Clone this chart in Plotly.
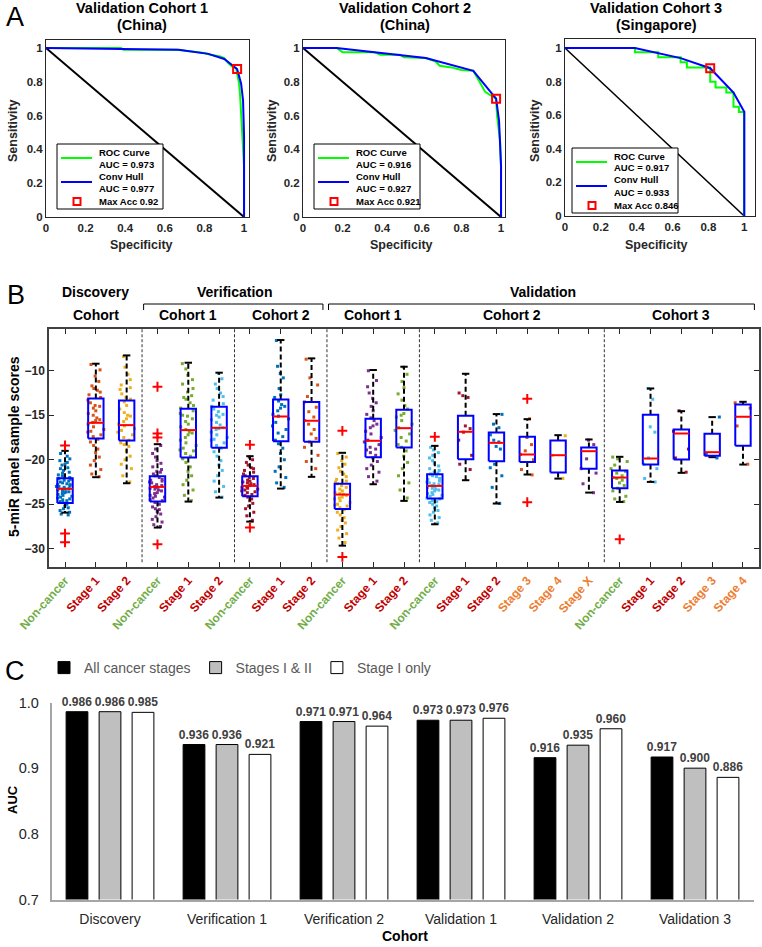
import plotly.graph_objects as go

W, H = 762, 947
FONT = "Liberation Sans, Arial, sans-serif"
INK = "#262626"

def px(x):
  return x / W

def py(y):
  return 1 - y / H

# ---------------- panel A : ROC curves ----------------
roc_titles = ["Validation Cohort 1", "Validation Cohort 2", "Validation Cohort 3"]
roc_regions = ["(China)", "(China)", "(Singapore)"]
roc_auc = ["0.973", "0.916", "0.917"]
hull_auc = ["0.977", "0.927", "0.933"]
max_acc = ["0.92", "0.921", "0.846"]

roc1_spec = [0, 0.38, 0.39, 0.66, 0.8, 0.83, 0.88, 0.9, 0.92, 0.94, 0.96, 0.97, 0.975, 0.98, 0.985, 0.99, 1.0, 1.0]
roc1_sens = [1, 1, 0.99, 0.99, 0.97, 0.96, 0.95, 0.94, 0.91, 0.89, 0.88, 0.83, 0.79, 0.72, 0.6, 0.48, 0.3, 0]
hull1_spec = [0, 0.67, 0.82, 0.9, 0.965, 0.985, 0.995, 1.0, 1.0]
hull1_sens = [1, 0.99, 0.965, 0.935, 0.875, 0.79, 0.69, 0.48, 0]

roc2_spec = [0, 0.17, 0.2, 0.36, 0.39, 0.49, 0.51, 0.62, 0.67, 0.69, 0.75, 0.8, 0.86, 0.89, 0.92, 0.96, 0.975, 0.98, 0.995, 1.0, 1.0]
roc2_sens = [1, 1, 0.975, 0.975, 0.96, 0.96, 0.945, 0.94, 0.92, 0.895, 0.885, 0.87, 0.865, 0.8, 0.74, 0.71, 0.70, 0.6, 0.45, 0.3, 0]
hull2_spec = [0, 0.17, 0.62, 0.86, 0.975, 0.99, 1.0, 1.0]
hull2_sens = [1, 1, 0.94, 0.865, 0.70, 0.57, 0.3, 0]

roc3_spec = [0, 0.39, 0.52, 0.645, 0.68, 0.81, 0.84, 0.9, 0.94, 0.97, 1.0, 1.0]
roc3_sens = [1, 0.975, 0.945, 0.915, 0.885, 0.80, 0.765, 0.735, 0.65, 0.62, 0.62, 0]
hull3_spec = [0, 0.39, 0.645, 0.81, 0.94, 1.0, 1.0]
hull3_sens = [1, 1, 0.94, 0.88, 0.735, 0.62, 0]

best_spec = [0.965, 0.975, 0.81]
best_sens = [0.875, 0.70, 0.88]

rocs = [(roc1_spec, roc1_sens, hull1_spec, hull1_sens, "linear"),
        (roc2_spec, roc2_sens, hull2_spec, hull2_sens, "linear"),
        (roc3_spec, roc3_sens, hull3_spec, hull3_sens, "hv")]

# ---------------- panel B : box plots ----------------
cat_labels = ["Non-cancer", "Stage 1", "Stage 2",
              "Non-cancer", "Stage 1", "Stage 2",
              "Non-cancer", "Stage 1", "Stage 2",
              "Non-cancer", "Stage 1", "Stage 2",
              "Non-cancer", "Stage 1", "Stage 2", "Stage 3", "Stage 4", "Stage X",
              "Non-cancer", "Stage 1", "Stage 2", "Stage 3", "Stage 4"]
cohort_names = ["Cohort", "Cohort 1", "Cohort 2", "Cohort 1", "Cohort 2", "Cohort 3"]
cohort_sizes = [3, 3, 3, 3, 6, 5]
study_names = ["Discovery", "Verification", "Validation"]
study_cohorts = [[0], [1, 2], [3, 4, 5]]

lo_whisk = [-25.94, -21.96, -22.64, -27.62, -24.7, -24.25, -26.95, -23.24, -21.92, -29.65, -22.75, -24.62,
            -27.25, -22.3, -24.92, -21.66, -22.12, -23.69, -24.74, -22.49, -21.47, -19.71, -20.54]
q1 = [-24.85, -17.61, -17.84, -24.7, -19.75, -18.66, -24.1, -17.91, -17.99, -25.52, -19.71, -18.62,
      -24.36, -19.94, -20.16, -20.24, -21.44, -21.02, -23.2, -20.54, -19.97, -19.56, -18.44]
median = [-23.27, -15.85, -16.11, -23.05, -16.67, -16.41, -22.94, -15.14, -15.62, -23.91, -17.87, -16.45,
          -22.94, -16.86, -18.1, -19.41, -19.49, -19.04, -22.0, -19.86, -17.05, -19.15, -15.17]
q3 = [-22.07, -13.11, -13.34, -21.85, -14.27, -14.05, -21.85, -13.22, -13.52, -22.71, -15.4, -14.39,
      -21.62, -15.06, -16.94, -17.42, -17.84, -18.62, -21.21, -14.95, -16.6, -17.09, -13.79]
hi_whisk = [-19.0, -9.21, -8.28, -18.25, -9.1, -10.22, -19.6, -6.55, -8.61, -19.22, -9.92, -9.55,
            -18.44, -10.34, -14.87, -15.44, -17.24, -17.72, -19.67, -11.99, -14.54, -15.21, -13.49]
outliers = [[-18.4, -28.3, -29.27], [], [], [-11.8, -17.05, -17.5, -29.5], [], [],
            [-18.32, -27.62], [], [], [-16.75, -30.92], [], [],
            [-17.42], [], [], [-13.15, -24.77], [], [],
            [-28.94], [], [], [], []]

samples = [
  [-19.3, -19.6, -19.9, -20.1, -20.3, -20.5, -20.6, -20.9, -21.0, -21.2, -21.4, -21.5, -21.7, -21.8, -22.0, -22.1,
   -22.2, -22.3, -22.5, -22.6, -22.7, -22.8, -22.9, -23.0, -23.1, -23.2, -23.3, -23.3, -23.4, -23.5, -23.6, -23.7,
   -23.8, -23.9, -24.0, -24.1, -24.2, -24.3, -24.5, -24.6, -24.7, -24.8, -25.0, -25.2, -25.4, -25.5, -25.7, -25.9,
   -26.1, -26.2, -22.4, -23.6, -24.4, -21.9, -23.0, -22.8],
  [-9.3, -9.9, -10.6, -11.2, -11.7, -12.0, -12.4, -12.7, -13.0, -13.3, -13.6, -13.9, -14.2, -14.5, -14.8, -15.0,
   -15.3, -15.6, -15.8, -16.0, -16.3, -16.6, -16.9, -17.2, -17.4, -17.7, -18.0, -18.4, -18.8, -19.2, -19.7, -20.1,
   -20.6, -21.1, -21.6, -21.9, -12.2, -14.0, -15.5, -16.8],
  [-8.4, -9.6, -10.4, -11.0, -11.6, -12.1, -12.6, -13.0, -13.5, -13.9, -14.3, -14.7, -15.0, -15.4, -15.7, -16.0,
   -16.2, -16.5, -16.9, -17.2, -17.5, -17.8, -18.1, -18.5, -19.0, -19.6, -20.0, -20.5, -21.0, -21.8, -22.5, -13.2,
   -15.1, -16.7, -11.9, -18.3],
  [-18.4, -18.8, -19.3, -19.7, -20.1, -20.4, -20.8, -21.1, -21.4, -21.6, -21.8, -22.0, -22.2, -22.3, -22.5, -22.6,
   -22.8, -22.9, -23.0, -23.1, -23.2, -23.4, -23.5, -23.7, -23.8, -24.0, -24.2, -24.3, -24.5, -24.6, -24.8, -25.0,
   -25.3, -25.5, -25.8, -26.1, -26.4, -26.7, -27.0, -27.3, -27.5, -22.4, -23.3, -24.1, -21.3, -25.6],
  [-9.2, -9.8, -10.5, -11.0, -11.5, -12.0, -12.4, -12.8, -13.2, -13.6, -13.9, -14.2, -14.5, -14.8, -15.1, -15.4,
   -15.7, -16.0, -16.3, -16.6, -16.9, -17.2, -17.5, -17.8, -18.1, -18.4, -18.7, -19.0, -19.3, -19.6, -19.9, -20.3,
   -20.8, -21.3, -21.8, -22.3, -22.8, -23.4, -24.0, -24.6, -15.0, -17.0, -18.9, -13.0],
  [-10.3, -10.9, -11.5, -12.0, -12.5, -12.9, -13.3, -13.7, -14.0, -14.3, -14.6, -14.9, -15.2, -15.5, -15.8, -16.1,
   -16.4, -16.6, -16.9, -17.2, -17.5, -17.8, -18.1, -18.4, -18.7, -19.1, -19.6, -20.1, -20.6, -21.2, -21.8, -22.4,
   -23.0, -23.6, -24.2, -15.0, -16.5, -17.7],
  [-19.7, -20.0, -20.3, -20.6, -20.9, -21.2, -21.4, -21.6, -21.8, -22.0, -22.1, -22.3, -22.4, -22.6, -22.7, -22.8,
   -22.9, -23.0, -23.1, -23.2, -23.3, -23.5, -23.6, -23.7, -23.9, -24.0, -24.2, -24.4, -24.6, -24.9, -25.2, -25.5,
   -25.9, -26.3, -26.8, -22.5, -23.4, -21.0],
  [-6.6, -9.5, -10.3, -10.8, -12.0, -12.7, -13.0, -13.4, -13.8, -14.2, -14.5, -14.9, -15.1, -15.4, -15.8, -16.2,
   -16.6, -17.0, -17.4, -17.8, -18.2, -18.7, -19.3, -20.0, -20.8, -21.3, -22.0, -22.6, -23.1, -14.0],
  [-8.7, -10.8, -11.6, -12.9, -13.5, -14.1, -14.6, -15.2, -15.6, -16.0, -16.6, -17.1, -17.6, -18.0, -18.6, -19.5,
   -20.2, -21.0],
  [-19.3, -19.7, -20.1, -20.5, -20.9, -21.3, -21.6, -21.9, -22.2, -22.5, -22.7, -22.9, -23.1, -23.3, -23.5, -23.7,
   -23.9, -24.0, -24.2, -24.4, -24.6, -24.8, -25.0, -25.2, -25.4, -25.6, -25.9, -26.2, -26.5, -26.8, -27.1, -27.5,
   -27.9, -28.3, -28.8, -29.3, -23.8, -24.3, -22.4, -25.1],
  [-10.0, -11.1, -11.8, -12.5, -13.1, -13.6, -14.0, -14.5, -14.9, -15.3, -15.6, -16.0, -16.4, -16.8, -17.1, -17.5,
   -17.8, -18.0, -18.3, -18.6, -18.9, -19.2, -19.5, -19.8, -20.2, -20.6, -21.0, -21.4, -21.9, -22.4, -16.2, -18.8],
  [-9.6, -10.4, -11.2, -11.9, -12.6, -13.3, -13.9, -14.3, -14.8, -15.2, -15.6, -16.0, -16.4, -16.7, -17.1, -17.5,
   -17.9, -18.3, -18.6, -19.0, -19.6, -20.3, -21.0, -21.8, -22.6, -23.4, -24.3, -15.0],
  [-18.6, -18.9, -19.2, -19.5, -19.8, -20.1, -20.4, -20.7, -21.0, -21.2, -21.4, -21.6, -21.8, -21.9, -22.1, -22.2,
   -22.4, -22.5, -22.7, -22.8, -22.9, -23.0, -23.1, -23.3, -23.4, -23.5, -23.7, -23.8, -24.0, -24.1, -24.3, -24.4,
   -24.6, -24.8, -25.0, -25.2, -25.4, -25.7, -25.9, -26.2, -26.5, -26.8, -27.1, -22.6, -23.2, -23.9, -21.5, -24.7],
  [-12.5, -12.8, -13.0, -16.2, -16.5, -16.9, -17.8, -19.5, -20.5, -21.1],
  [-14.9, -16.0, -16.4, -17.2, -17.8, -18.0, -18.5, -18.8, -20.5, -20.9, -21.8, -23.1, -24.9],
  [-15.4, -17.5, -18.3, -19.0, -19.4, -20.0, -21.1, -21.7],
  [-17.3, -19.5, -22.1],
  [-17.8, -18.3, -19.9, -21.0, -21.5, -22.7, -23.7],
  [-19.7, -19.9, -20.2, -20.6, -21.0, -21.3, -21.5, -21.8, -22.0, -22.1, -22.3, -22.6, -22.9, -23.2, -23.5, -24.1,
   -24.4, -24.7],
  [-12.0, -13.2, -16.3, -16.9, -19.8, -20.5, -21.0, -22.1, -22.5],
  [-14.5, -16.8, -18.8, -19.8, -21.4],
  [-15.2, -19.4, -19.8],
  [-13.6, -14.2, -16.2, -20.5],
]

# matlab default colour order, cycled over the groups
dot_colors = ["#0072BD", "#D95319", "#EDB120", "#7E2F8E", "#77AC30", "#4DBEEE", "#A2142F"]
label_colors = {"Non-cancer": "#70AD47", "Stage 1": "#C00000", "Stage 2": "#C00000"}
late_color = "#ED7D31"

# ---------------- panel C : AUC bars ----------------
bar_cohorts = ["Discovery", "Verification 1", "Verification 2", "Validation 1", "Validation 2", "Validation 3"]
auc_all = [0.986, 0.936, 0.971, 0.973, 0.916, 0.917]
auc_stage12 = [0.986, 0.936, 0.971, 0.973, 0.935, 0.900]
auc_stage1 = [0.985, 0.921, 0.964, 0.976, 0.960, 0.886]

fig = go.Figure()
layout = dict()
annotations = []
shapes = []

def label(text, x, y, size, bold=True, angle=0, color="black", xref="paper", xanchor="center"):
  annotations.append(dict(text=text, x=x, y=y, xref=xref, yref="paper", showarrow=False, textangle=angle,
                          xanchor=xanchor, yanchor="middle",
                          font=dict(size=size, weight="bold" if bold else "normal", color=color)))

def pshape(kind, x0, y0, x1, y1, **kw):
  shapes.append(dict(type=kind, xref="paper", yref="paper", x0=px(x0), x1=px(x1), y0=py(y0), y1=py(y1),
                     layer="above", **kw))

# ---- panel A ----
roc_frames = [(46, 249, 40, 217, 1.025, 1.047),
              (303, 505, 40, 217, 1.02, 1.047),
              (565, 755, 39, 216, 1.06, 1.054)]
legend_pos = [(57, 144), (314, 144), (572, 148)]
title_x = [142, 405, 656]
spec_x = [141, 401, 656]
sens_x = [13, 272, 535]

for i, (spec, sens, hspec, hsens, shape) in enumerate(rocs):
  ax = "" if i == 0 else str(i + 1)
  fig.add_trace(go.Scatter(x=[0, 1], y=[1, 0], mode="lines", showlegend=False,
                           line=dict(color="black", width=2 if i < 2 else 1.5),
                           xaxis="x" + ax, yaxis="y" + ax))
  fig.add_trace(go.Scatter(x=spec, y=sens, mode="lines", line=dict(color="#00FF00", width=2, shape=shape),
                           name="ROC Curve", showlegend=False, xaxis="x" + ax, yaxis="y" + ax))
  fig.add_trace(go.Scatter(x=hspec, y=hsens, mode="lines", line=dict(color="#0000FF", width=2),
                           name="Conv Hull", showlegend=False, xaxis="x" + ax, yaxis="y" + ax))
  fig.add_trace(go.Scatter(x=[best_spec[i]], y=[best_sens[i]], mode="markers", name="Max Acc",
                           marker=dict(symbol="square-open", color="#FF0000", size=8, line=dict(width=2)),
                           showlegend=False, xaxis="x" + ax, yaxis="y" + ax))

  x0, x1, y0, y1, xr, yr = roc_frames[i]
  common = dict(showline=True, mirror=True, linecolor=INK, linewidth=1, ticks="", showgrid=False,
                zeroline=False, automargin=False, tickvals=[0, 0.2, 0.4, 0.6, 0.8, 1],
                tickfont=dict(size=11.5, weight="bold", color=INK))
  layout["xaxis" + ax] = dict(common, domain=[px(x0), px(x1)], range=[0, xr], anchor="y" + ax)
  layout["yaxis" + ax] = dict(common, domain=[py(y1), py(y0)], range=[0, yr], anchor="x" + ax)

  label(roc_titles[i], px(title_x[i]), py(8.5), 14.5)
  label(roc_regions[i], px(title_x[i]), py(25.5), 14.5)
  label("Specificity", px(spec_x[i]), py(245), 12.5, color=INK)
  label("Sensitivity", px(sens_x[i]), py(131), 12.5, angle=-90, color=INK)

  # matlab style legend box
  lx, ly = legend_pos[i]
  pshape("rect", lx, ly + 65, lx + 106, ly, line=dict(color="black", width=1), fillcolor="white")
  pshape("line", lx + 4, ly + 14, lx + 35, ly + 14, line=dict(color="#00FF00", width=2))
  pshape("line", lx + 4, ly + 38, lx + 35, ly + 38, line=dict(color="#0000FF", width=2))
  pshape("rect", lx + 16.5, ly + 61, lx + 23.5, ly + 54, line=dict(color="#FF0000", width=2))
  for text, dy in [("ROC Curve", 8), (f"AUC = {roc_auc[i]}", 20), ("Conv Hull", 32),
                   (f"AUC = {hull_auc[i]}", 44), (f"Max Acc {max_acc[i]}", 57.5)]:
    label(text, px(lx + 40), py(ly + dy), 9.5, xanchor="left")

# ---- panel B ----
positions = list(range(1, len(cat_labels) + 1))

for i, vals in enumerate(samples):
  fig.add_trace(go.Box(y=vals, x0=positions[i], boxpoints="all", jitter=1, pointpos=0, width=0.6,
                       line=dict(width=0), fillcolor="rgba(0,0,0,0)", showlegend=False,
                       marker=dict(color=dot_colors[i % len(dot_colors)], size=3, symbol="square"),
                       xaxis="x4", yaxis="y4"))

wx, wy, cx, cy, bx, by, mx, my, ox, oy = [], [], [], [], [], [], [], [], [], []
for p, a, b, m, c, d, outs in zip(positions, lo_whisk, q1, median, q3, hi_whisk, outliers):
  wx += [p, p, None, p, p, None]
  wy += [c, d, None, b, a, None]
  cx += [p - 0.12, p + 0.12, None, p - 0.12, p + 0.12, None]
  cy += [d, d, None, a, a, None]
  bx += [p - 0.25, p + 0.25, p + 0.25, p - 0.25, p - 0.25, None]
  by += [b, b, c, c, b, None]
  mx += [p - 0.25, p + 0.25, None]
  my += [m, m, None]
  ox += [p] * len(outs)
  oy += outs

fig.add_trace(go.Scatter(x=wx, y=wy, mode="lines", line=dict(color="black", width=2, dash="5px,3px"),
                         showlegend=False, xaxis="x4", yaxis="y4"))
fig.add_trace(go.Scatter(x=cx, y=cy, mode="lines", line=dict(color="black", width=2),
                         showlegend=False, xaxis="x4", yaxis="y4"))
fig.add_trace(go.Scatter(x=bx, y=by, mode="lines", line=dict(color="#0000FF", width=2),
                         showlegend=False, xaxis="x4", yaxis="y4"))
fig.add_trace(go.Scatter(x=mx, y=my, mode="lines", line=dict(color="#FF0000", width=2),
                         showlegend=False, xaxis="x4", yaxis="y4"))
fig.add_trace(go.Scatter(x=ox, y=oy, mode="markers", showlegend=False, xaxis="x4", yaxis="y4",
                         marker=dict(symbol="cross-thin", size=7, line=dict(color="#FF0000", width=2))))

ticktext = [f"<span style='color:{label_colors.get(t, late_color)}'>{t}</span>" for t in cat_labels]

layout["xaxis4"] = dict(domain=[px(49), px(759)], range=[0.48, 23.52], anchor="y4",
                        tickvals=positions, ticktext=ticktext, tickangle=-48, automargin=False,
                        ticks="inside", ticklen=5, tickcolor=INK, showline=True, mirror="ticks",
                        linecolor="#404040", linewidth=1.5, showgrid=False, zeroline=False,
                        tickfont=dict(size=12, weight="bold"))
layout["yaxis4"] = dict(domain=[py(567), py(329)], range=[-32.05, -5.31], anchor="x4",
                        tickvals=[-30, -25, -20, -15, -10], automargin=False,
                        ticks="inside", ticklen=5, tickcolor=INK, showline=True, mirror="ticks",
                        linecolor="#404040", linewidth=1.5, showgrid=False, zeroline=False,
                        tickfont=dict(size=12, weight="bold", color=INK))
label("5-miR panel sample scores", px(14), py(447), 14, angle=-90)

# group boundaries, cohort headers and study brackets
edges = [0.5]
for n in cohort_sizes:
  edges.append(edges[-1] + n)
for e in edges[1:-1]:
  shapes.append(dict(type="line", xref="x4", yref="y4 domain", x0=e, x1=e, y0=0.02, y1=1,
                     line=dict(color="#333333", width=1, dash="3px,2px")))
for k, name in enumerate(cohort_names):
  label(name, (edges[k] + edges[k + 1]) / 2, py(315), 14, xref="x4")
for name, members in zip(study_names, study_cohorts):
  left, right = edges[members[0]], edges[members[-1] + 1]
  label(name, (left + right) / 2, py(292), 14, xref="x4")
  if len(members) > 1:
    bl, br = left + 0.05, right - 0.13
    shapes.append(dict(type="path", xref="x4", yref="paper",
                       path=f"M {bl} {py(310)} L {bl} {py(304)} L {br} {py(304)} L {br} {py(310)}",
                       line=dict(color="black", width=1)))

# ---- panel C ----
bar_series = [("All cancer stages", auc_all, "black"),
              ("Stages I & II", auc_stage12, "#BFBFBF"),
              ("Stage I only", auc_stage1, "white")]
for name, vals, color in bar_series:
  fig.add_trace(go.Bar(x=bar_cohorts, y=vals, name=name,
                       marker=dict(color=color, line=dict(color="black", width=1)),
                       texttemplate="%{y:.3f}", textposition="outside", cliponaxis=False,
                       constraintext="none",
                       textfont=dict(size=12, weight="bold", color="#404040"),
                       xaxis="x5", yaxis="y5"))

layout["xaxis5"] = dict(domain=[px(51.5), px(753.5)], anchor="y5", showline=True, linecolor="#A6A6A6",
                        linewidth=1.5, ticks="", showgrid=False, ticklabelstandoff=6, automargin=False,
                        tickfont=dict(size=14, color="#262626"))
layout["yaxis5"] = dict(domain=[py(899.5), py(702.5)], range=[0.7, 1.0], anchor="x5",
                        tickvals=[0.7, 0.8, 0.9, 1.0], tickformat=".1f", showline=True,
                        linecolor="#A6A6A6", linewidth=1.5, ticks="", showgrid=False, zeroline=False,
                        ticklabelstandoff=8, automargin=False, tickfont=dict(size=14.5, color="#262626"))
layout["legend"] = dict(orientation="h", x=px(44), y=py(668), xanchor="left", yanchor="middle",
                        bgcolor="rgba(0,0,0,0)", itemwidth=30,
                        font=dict(size=14, color="#595959"))
label("AUC", px(12), py(800), 13, angle=-90)
label("Cohort", px(405), py(936), 14)

# panel letters
for letter, (lx, ly) in zip("ABC", [(15, 17), (16, 295), (15, 671)]):
  label(letter, px(lx), py(ly), 27, bold=False)

fig.update_layout(**layout)
fig.update_layout(
    width=W, height=H, autosize=False,
    margin=dict(l=0, r=0, t=0, b=0),
    paper_bgcolor="white", plot_bgcolor="white",
    font=dict(family=FONT, color="black"),
    boxmode="overlay", barmode="group", bargap=0.154, bargroupgap=0.34,
    annotations=annotations, shapes=shapes,
)

# drop the default 8px page margin so the figure sits at the window origin
fig.write_html("out.html", config={"displayModeBar": False},
               post_script="document.body.style.margin='0px';")
